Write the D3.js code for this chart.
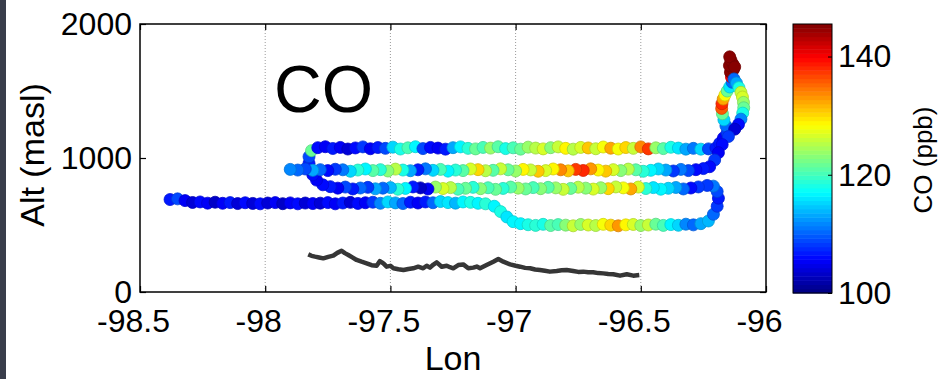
<!DOCTYPE html>
<html lang="en">
<head>
<meta charset="UTF-8">
<title>CO flight track</title>
<script src="https://d3js.org/d3.v7.min.js"></script>
<style>
  body { margin: 0; background: #fff; }
  text { font-family: "Liberation Sans", Arial, Helvetica, sans-serif; fill: #000; }
</style>
</head>
<body>
<svg width="945" height="379"></svg>
<script>
// axis ticks
var xTicks = [-98.5, -98, -97.5, -97, -96.5, -96];
var yTicks = [0, 1000, 2000];
var cTicks = [100, 120, 140];

// flight track: lon, altitude (m asl), CO (ppb), in flight order
var trackLon = [
  // low leg, ~670 m, eastward
  -98.38,-98.35,-98.32,-98.29,-98.26,-98.23,-98.20,-98.17,-98.14,-98.11,
  -98.08,-98.05,-98.02,-97.99,-97.96,-97.93,-97.90,-97.87,-97.84,-97.81,
  -97.78,-97.75,-97.72,-97.69,-97.66,-97.63,-97.60,-97.57,-97.54,-97.51,
  -97.48,-97.45,-97.42,-97.39,-97.36,-97.33,-97.30,-97.27,-97.24,-97.21,
  -97.18,-97.15,-97.12,
  // step down
  -97.085,-97.06,-97.035,-97.01,
  // ~500 m leg
  -96.98,-96.95,-96.92,-96.89,-96.86,-96.83,-96.80,-96.77,-96.74,-96.71,
  -96.68,-96.65,-96.62,-96.59,-96.56,-96.53,-96.50,-96.47,-96.44,-96.41,
  -96.38,-96.35,-96.32,-96.29,-96.26,
  // east turn
  -96.23,-96.21,-96.195,-96.19,-96.195,-96.21,-96.235,
  // ~775 m leg, westward
  -96.27,-96.30,-96.33,-96.36,-96.39,-96.42,-96.45,-96.48,-96.51,-96.54,
  -96.57,-96.60,-96.63,-96.66,-96.69,-96.72,-96.75,-96.78,-96.81,-96.84,
  -96.87,-96.90,-96.93,-96.96,-96.99,-97.02,-97.05,-97.08,-97.11,-97.14,
  -97.17,-97.20,-97.23,-97.26,-97.29,-97.32,-97.35,-97.38,-97.41,-97.44,
  -97.47,-97.50,-97.53,-97.56,-97.59,-97.62,-97.65,-97.68,-97.71,-97.74,
  // west turn up
  -97.77,-97.795,-97.81,-97.82,-97.825,-97.825,-97.815,
  // ~1075 m leg, eastward
  -97.79,-97.76,-97.73,-97.70,-97.67,-97.64,-97.61,-97.58,-97.55,-97.52,
  -97.49,-97.46,-97.43,-97.40,-97.37,-97.34,-97.31,-97.28,-97.25,-97.22,
  -97.19,-97.16,-97.13,-97.10,-97.07,-97.04,-97.01,-96.98,-96.95,-96.92,
  -96.89,-96.86,-96.83,-96.80,-96.77,-96.74,-96.71,-96.68,-96.65,-96.62,
  -96.59,-96.56,-96.53,-96.50,-96.47,-96.44,-96.41,-96.38,-96.35,-96.32,
  -96.29,-96.26,-96.23,-96.20,
  // spiral up and down
  -96.185,-96.17,-96.155,-96.16,-96.168,-96.174,-96.177,-96.176,-96.171,-96.164,
  -96.155,-96.145,-96.135,
  -96.138,-96.142,-96.13,-96.146,-96.132,-96.14,-96.145,-96.125,
  -96.128,-96.118,-96.108,-96.10,-96.094,-96.09,-96.089,-96.093,-96.10,-96.11,
  -96.125,
  -96.15,-96.175,-96.19,-96.205,-96.225,
  // ~910 m leg, westward
  -96.25,-96.28,-96.31,-96.34,-96.37,-96.40,-96.43,-96.46,-96.49,-96.52,
  -96.55,-96.58,-96.61,-96.64,-96.67,-96.70,-96.73,-96.76,-96.79,-96.82,
  -96.85,-96.88,-96.91,-96.94,-96.97,-97.00,-97.03,-97.06,-97.09,-97.12,
  -97.15,-97.18,-97.21,-97.24,-97.27,-97.30,-97.33,-97.36,-97.39,-97.42,
  -97.45,-97.48,-97.51,-97.54,-97.57,-97.60,-97.63,-97.66,-97.69,-97.72,
  -97.75,-97.78,-97.81,-97.84,-97.87,-97.90
];

var trackAlt = [
  690,695,682,668,672,663,670,662,667,660,
  666,661,658,664,667,659,665,658,664,660,
  663,667,658,664,669,661,666,670,662,672,
  665,660,670,664,672,666,675,667,663,672,
  669,662,658,
  640,600,560,525,
  510,502,497,505,496,503,499,494,504,500,
  496,505,499,494,501,504,496,500,506,497,
  503,498,506,501,510,
  530,580,640,700,750,790,795,
  784,776,769,780,774,767,779,772,783,769,
  777,784,771,778,768,775,782,773,766,777,
  781,771,779,769,775,783,773,766,778,771,
  781,774,767,779,772,783,769,777,784,773,
  767,779,775,770,781,776,769,783,775,786,
  800,835,875,915,960,1010,1055,
  1077,1084,1071,1079,1067,1075,1083,1069,1078,1072,
  1081,1067,1076,1084,1070,1079,1074,1066,1077,1083,
  1072,1068,1079,1074,1084,1070,1076,1066,1081,1074,
  1068,1077,1083,1072,1066,1079,1075,1069,1082,1073,
  1067,1078,1072,1083,1068,1076,1070,1080,1074,1066,
  1072,1066,1068,1075,
  1110,1150,1190,1240,1285,1330,1370,1405,1440,1470,
  1500,1530,1565,
  1605,1640,1660,1690,1700,1730,1755,1680,
  1590,1560,1525,1490,1455,1415,1375,1335,1290,1250,
  1215,
  1160,1100,1040,985,935,
  921,913,906,915,903,910,918,908,901,912,
  917,906,913,902,910,919,907,915,904,912,
  918,906,901,911,915,903,912,919,908,905,
  913,918,906,910,902,915,908,919,912,905,
  910,917,903,913,906,918,910,901,912,916,
  906,913,908,918,910,915
];

var trackCO = [
  107,109,105,104,106,105,103,105,107,104,
  106,104,106,104,105,103,105,106,104,105,
  104,106,105,107,104,106,105,108,112,115,
  113,110,107,105,107,110,115,116,114,117,
  118,117,119,
  117,118,116,117,
  117,118,119,118,121,120,123,126,124,127,
  125,128,130,133,129,127,124,126,122,120,
  117,115,112,110,113,
  114,110,108,107,109,111,108,
  108,106,110,113,115,117,116,119,127,132,
  128,126,130,124,127,123,125,122,126,124,
  121,123,120,122,124,121,119,122,120,123,
  119,122,120,125,127,124,105,103,107,117,
  119,114,110,113,108,110,107,109,105,107,
  106,105,106,105,107,109,122,
  106,105,107,105,104,106,108,105,107,109,
  115,118,120,117,109,106,105,107,113,117,
  119,122,120,124,121,118,120,122,124,125,
  127,123,126,129,125,127,131,126,128,132,
  128,130,126,134,137,124,121,118,116,113,
  111,115,109,107,
  107,105,108,110,115,122,136,138,132,128,
  122,116,110,
  140,146,148,147,149,146,150,145,
  110,113,118,126,127,124,122,118,112,106,
  104,
  108,106,105,108,106,
  107,106,109,111,108,113,115,117,119,121,
  125,123,127,131,129,133,138,137,131,134,
  129,127,131,126,129,124,122,126,121,125,
  130,127,121,119,117,120,115,111,107,113,
  118,125,123,119,121,117,119,115,111,108,
  106,110,113,109,110,112
];

// ground elevation under the track
var groundLon = [-97.828,-97.815,-97.801,-97.785,-97.768,-97.748,-97.728,-97.712,-97.695,-97.682,
  -97.668,-97.652,-97.635,-97.615,-97.595,-97.575,-97.555,-97.548,-97.542,-97.535,
  -97.528,-97.515,-97.500,-97.488,-97.468,-97.448,-97.428,-97.409,-97.389,-97.369,
  -97.355,-97.342,-97.328,-97.315,-97.295,-97.275,-97.262,-97.249,-97.229,-97.209,
  -97.189,-97.169,-97.155,-97.142,-97.116,-97.089,-97.069,-97.049,-97.022,-97.000,
  -96.982,-96.962,-96.942,-96.922,-96.903,-96.883,-96.863,-96.836,-96.816,-96.796,
  -96.770,-96.750,-96.730,-96.710,-96.690,-96.670,-96.650,-96.630,-96.610,-96.583,
  -96.556,-96.530,-96.506];
var groundAlt = [281,270,264,258,251,262,271,292,308,290,
  276,258,239,226,214,200,196,215,231,222,
  214,189,195,177,170,164,172,177,189,177,
  196,182,205,221,189,196,185,177,201,206,
  177,182,190,177,201,226,246,226,206,196,
  189,180,177,168,164,158,152,157,162,164,
  157,150,152,148,147,141,139,135,132,122,
  132,122,127];

var svg = d3.select("svg");
svg.append("rect").attr("x", 0).attr("y", 0).attr("width", 6).attr("height", 379).attr("fill", "#393d4b");

var x = d3.scaleLinear().domain([-98.5, -96]).range([140, 766]);
var y = d3.scaleLinear().domain([0, 2000]).range([292, 24]);
var cMin = 100, cMax = 145.5;
var cy = d3.scaleLinear().domain([cMin, cMax]).range([293, 24]);

function jet(t) {
  var c = function(v) { return Math.max(0, Math.min(1, v)); };
  var r = c(Math.min(4 * t - 1.5, -4 * t + 4.5));
  var g = c(Math.min(4 * t - 0.5, -4 * t + 3.5));
  var b = c(Math.min(4 * t + 0.5, -4 * t + 2.5));
  return d3.rgb(r * 255, g * 255, b * 255);
}
function coColor(v) {
  var i = Math.floor((v - cMin) / (cMax - cMin) * 64);
  i = Math.max(0, Math.min(63, i));
  return jet((i + 0.5) / 64);
}

// dotted grid
svg.append("g").selectAll("line").data(xTicks.slice(1, -1)).enter().append("line")
  .attr("x1", d => x(d)).attr("x2", d => x(d)).attr("y1", 24).attr("y2", 292)
  .attr("stroke", "#9a9a9a").attr("stroke-width", 1).attr("stroke-dasharray", "1,2");

// ground line
svg.append("path").datum(groundLon.map((d, i) => [d, groundAlt[i]]))
  .attr("fill", "none").attr("stroke", "#363636").attr("stroke-width", 4.5)
  .attr("stroke-linejoin", "round")
  .attr("d", d3.line().x(d => x(d[0])).y(d => y(d[1])));

// track dots
var pts = trackLon.map((d, i) => ({lon: d, alt: trackAlt[i], co: trackCO[i]}));
svg.append("g").selectAll("circle").data(pts).enter().append("circle")
  .attr("cx", d => x(d.lon)).attr("cy", d => y(d.alt)).attr("r", 6)
  .attr("fill", d => coColor(d.co))
  .attr("stroke", d => coColor(d.co).darker(0.5)).attr("stroke-width", 0.8);

// axes box + inward ticks
var font = 32;
var gx = svg.append("g").attr("transform", "translate(0,292)")
  .call(d3.axisBottom(x).tickValues(xTicks).tickFormat(d => String(d)).tickSizeInner(-6).tickSizeOuter(0).tickPadding(17));
gx.selectAll("text").attr("dx", -7).style("font-size", font + "px");
svg.append("g").attr("transform", "translate(0,24)")
  .call(d3.axisTop(x).tickValues(xTicks).tickFormat("").tickSizeInner(-6).tickSizeOuter(0));
var gy = svg.append("g").attr("transform", "translate(140,0)")
  .call(d3.axisLeft(y).tickValues(yTicks).tickFormat(d3.format("d")).tickSizeInner(-6).tickSizeOuter(0).tickPadding(8));
gy.selectAll("text").style("font-size", font + "px");
svg.append("g").attr("transform", "translate(766,0)")
  .call(d3.axisRight(y).tickValues(yTicks).tickFormat("").tickSizeInner(-6).tickSizeOuter(0));
svg.selectAll(".domain").remove();
svg.selectAll(".tick line").attr("stroke", "#000").attr("stroke-width", 1.2);
svg.append("rect").attr("x", 140).attr("y", 24).attr("width", 626).attr("height", 268)
  .attr("fill", "none").attr("stroke", "#000").attr("stroke-width", 1.5);

// labels
svg.append("text").attr("x", 453).attr("y", 370).attr("text-anchor", "middle")
  .style("font-size", "34px").text("Lon");
svg.append("text").attr("transform", "translate(44,155) rotate(-90)").attr("text-anchor", "middle")
  .style("font-size", "34px").text("Alt (masl)");
svg.append("text").attr("x", 274).attr("y", 112).style("font-size", "66px").text("CO");

// colorbar
var cbX = 793, cbW = 39;
var bands = d3.range(64);
svg.append("g").selectAll("rect").data(bands).enter().append("rect")
  .attr("x", cbX).attr("width", cbW)
  .attr("y", i => cy(cMin + (i + 1) * (cMax - cMin) / 64))
  .attr("height", i => cy(cMin + i * (cMax - cMin) / 64) - cy(cMin + (i + 1) * (cMax - cMin) / 64) + 0.5)
  .attr("fill", i => jet((i + 0.5) / 64));
svg.append("rect").attr("x", cbX).attr("y", 24).attr("width", cbW).attr("height", 269)
  .attr("fill", "none").attr("stroke", "#000").attr("stroke-width", 1);
var gc = svg.append("g").attr("transform", "translate(" + (cbX + cbW) + ",0)")
  .call(d3.axisRight(cy).tickValues(cTicks).tickSizeInner(-4).tickSizeOuter(0).tickPadding(6));
gc.select(".domain").remove();
gc.selectAll("text").style("font-size", font + "px");
gc.selectAll(".tick line").attr("stroke", "#000");
svg.append("text").attr("transform", "translate(932,160) rotate(-90)").attr("text-anchor", "middle")
  .style("font-size", "26px").text("CO (ppb)");
</script>
</body>
</html>
